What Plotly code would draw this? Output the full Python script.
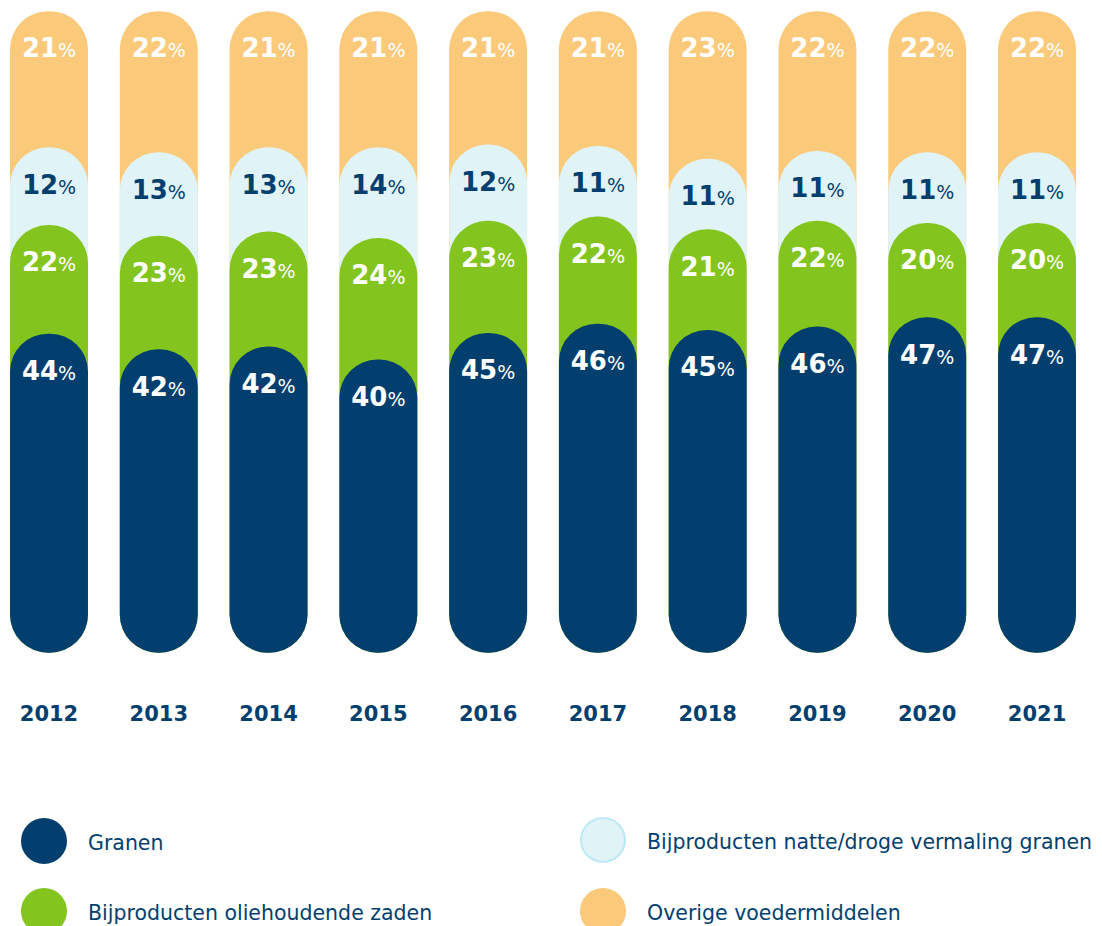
import numpy as np
import plotly.graph_objects as go

years = ['2012', '2013', '2014', '2015', '2016', '2017', '2018', '2019', '2020', '2021']
granen = [44, 42, 42, 40, 45, 46, 45, 46, 47, 47]
oliezaden = [22, 23, 23, 24, 23, 22, 21, 22, 20, 20]
vermaling = [12, 13, 13, 14, 12, 11, 11, 11, 11, 11]
overig = [21, 22, 21, 21, 21, 21, 23, 22, 22, 22]

names = ['Granen', 'Bijproducten oliehoudende zaden',
         'Bijproducten natte/droge vermaling granen', 'Overige voedermiddelen']

DARK = '#033F6E'
GREEN = '#84C41E'
LIGHT = '#E0F3F7'
ORANGE = '#FBC97A'
FONT = 'DejaVu Sans'

# the page keeps an 8px body margin, so the figure is 8px smaller than the window
W, H = 1094, 918

# shares normalised so every pill ends at 100
tot = np.array(granen) + np.array(oliezaden) + np.array(vermaling) + np.array(overig)
sh = lambda v: np.array(v) / tot * 100
top_g = sh(granen)
top_o = top_g + sh(oliezaden)
top_v = top_o + sh(vermaling)
top_r = np.full(len(years), 100.0)

base = 0.01    # non-zero base -> both ends of the bar rounded
cap = 5.3      # the Granen cap sits above its share
lab = 6.2      # label drop below the top of a pill
w = 0.71

fig = go.Figure()

for tops, col in [(top_r, ORANGE), (top_v, LIGHT), (top_o, GREEN), (top_g + cap, DARK)]:
    fig.add_trace(go.Bar(x=years, y=tops - base, base=base, width=w,
                         marker=dict(color=col, cornerradius='50%', line_width=0),
                         hoverinfo='skip'))


def txt(vals):
    return [f"{v}<span style='font-size:19px;font-weight:normal'>%</span>" for v in vals]


for vals, tops, col in [(overig, top_r, 'white'), (vermaling, top_v, DARK),
                        (oliezaden, top_o, 'white'), (granen, top_g + cap, 'white')]:
    fig.add_trace(go.Scatter(x=years, y=tops - lab, mode='text', text=txt(vals),
                             textfont=dict(family=FONT, size=26, color=col, weight='bold'),
                             hoverinfo='skip'))

fig.update_layout(
    width=W, height=H,
    margin=dict(l=0, r=0, t=0, b=270),
    barmode='overlay', showlegend=False,
    plot_bgcolor='white', paper_bgcolor='white',
    xaxis=dict(type='category', range=[-0.3735, 9.592], showgrid=False, zeroline=False,
               showline=False, ticks='outside', ticklen=39, tickcolor='rgba(0,0,0,0)',
               tickfont=dict(family=FONT, size=21, color=DARK, weight='bold')),
    yaxis=dict(visible=False, range=[-0.5, 100.5]),
)

# legend drawn by hand: large dots and labels
colors = [DARK, GREEN, LIGHT, ORANGE]
lx = [36, 36, 595, 595]
ly = [833, 903, 832, 903]
for name, col, x, y in zip(names, colors, lx, ly):
    xp = x / W
    yp = (648 - y) / 648
    fig.add_shape(type='circle', xref='paper', yref='paper', xsizemode='pixel', ysizemode='pixel',
                  xanchor=xp, yanchor=yp, x0=-22, x1=22, y0=-22, y1=22,
                  fillcolor=col, line=dict(color='#BDE9F6' if col == LIGHT else col, width=2))
    fig.add_annotation(x=xp + 42 / W, y=yp - 2 / 648, xref='paper', yref='paper',
                       text=name, showarrow=False, xanchor='left', yanchor='middle',
                       font=dict(family=FONT, size=20.5, color=DARK))

fig.write_html('out.html')
